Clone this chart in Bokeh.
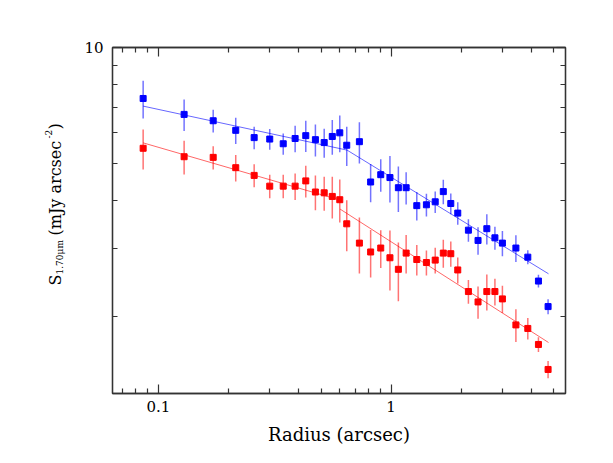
import math
from bokeh.plotting import figure
from bokeh.layouts import row
from bokeh.models import FixedTicker, LogAxis, CustomJSTickFormatter, Range1d
from bokeh.core.properties import value
from bokeh.embed import file_html
from bokeh.resources import INLINE

# ---------------- data ----------------
radius = [0.086, 0.129, 0.172, 0.215, 0.258, 0.301, 0.344, 0.387, 0.430, 0.473,
          0.516, 0.559, 0.602, 0.645, 0.731, 0.817, 0.903, 0.989, 1.075, 1.161,
          1.290, 1.419, 1.548, 1.677, 1.806, 1.935, 2.150, 2.365, 2.580, 2.795,
          3.010, 3.440, 3.870, 4.300, 4.730]

blue_sb = [7.37, 6.70, 6.45, 6.09, 5.83, 5.78, 5.62, 5.80, 5.90, 5.76,
           5.66, 5.87, 6.00, 5.57, 5.69, 4.47, 4.67, 4.59, 4.32, 4.32,
           3.88, 3.90, 3.97, 4.22, 3.93, 3.71, 3.35, 3.15, 3.38, 3.20,
           3.10, 3.01, 2.85, 2.47, 2.12]
blue_err = [0.83, 0.63, 0.44, 0.475, 0.39, 0.36, 0.36, 0.46, 0.55, 0.55,
            0.49, 0.61, 0.66, 0.65, 0.70, 0.51, 0.455, 0.635, 0.585, 0.415,
            0.33, 0.265, 0.255, 0.31, 0.245, 0.25, 0.225, 0.26, 0.305, 0.22,
            0.235, 0.24, 0.12, 0.095, 0.095]

red_sb = [5.47, 5.20, 5.18, 4.87, 4.65, 4.36, 4.36, 4.36, 4.50, 4.21,
          4.19, 4.10, 4.02, 3.48, 3.10, 2.94, 3.01, 2.84, 2.65, 2.92,
          2.81, 2.76, 2.80, 2.92, 2.91, 2.64, 2.32, 2.18, 2.32, 2.32,
          2.22, 1.90, 1.86, 1.69, 1.455]
red_err = [0.655, 0.525, 0.36, 0.385, 0.32, 0.305, 0.305, 0.345, 0.425, 0.435,
           0.425, 0.51, 0.515, 0.525, 0.515, 0.415, 0.34, 0.505, 0.46, 0.335,
           0.255, 0.205, 0.215, 0.245, 0.22, 0.205, 0.165, 0.21, 0.25, 0.185,
           0.18, 0.185, 0.12, 0.075, 0.075]

blue_fit_r = [0.086, 0.647, 4.75]
blue_fit_sb = [7.04, 5.41, 2.58]
red_fit1_r = [0.086, 0.604]
red_fit1_sb = [5.65, 4.01]
red_fit2_r = [0.604, 4.75]
red_fit2_sb = [3.80, 1.71]

x_major = [0.1, 1]
x_minor = [0.07, 0.08, 0.09, 0.2, 0.3, 0.4, 0.5, 0.6, 0.7, 0.8, 0.9, 2, 3, 4, 5]
y_major = [10]
y_minor = [2, 3, 4, 5, 6, 7, 8, 9]

X0, X1 = 0.0635, 5.62
Y0, Y1 = 1.26, 10.0

# ---------------- layout (page pixels) ----------------
FL, FR, FT, FB = 112, 565, 47, 393   # frame edges
TOTAL_W, H = 605, 455
LW = 70                              # width of the strip holding the y title
W = TOTAL_W - LW

FONT = "DejaVu Serif"

p = figure(width=W, height=H, x_axis_type="log", y_axis_type="log",
           x_range=Range1d(X0, X1), y_range=Range1d(Y0, Y1),
           output_backend="svg", toolbar_location=None,
           min_border_left=FL - LW, min_border_right=TOTAL_W - FR,
           min_border_top=FT, min_border_bottom=H - FB)
p.background_fill_color = "white"
p.border_fill_color = "white"
p.outline_line_color = "#333333"
p.outline_line_width = 1.3
p.xgrid.visible = False
p.ygrid.visible = False

fmt = CustomJSTickFormatter(code="return tick.toString();")
blank = CustomJSTickFormatter(code="return '';")


def style_axis(ax, ticks, minor, show_labels=True):
    ax.ticker = FixedTicker(ticks=ticks, minor_ticks=minor)
    ax.formatter = fmt if show_labels else blank
    ax.major_tick_in = 9
    ax.major_tick_out = 0
    ax.minor_tick_in = 5
    ax.minor_tick_out = 0
    ax.axis_line_color = "#333333"
    ax.axis_line_width = 1.3
    ax.major_tick_line_color = "#333333"
    ax.major_tick_line_width = 1.2
    ax.minor_tick_line_color = "#333333"
    ax.minor_tick_line_width = 1.2
    ax.major_label_text_font = FONT
    ax.major_label_text_color = "black"
    ax.major_label_text_font_size = "15px"
    if not show_labels:
        ax.major_label_standoff = 0


xax = p.xaxis[0]
yax = p.yaxis[0]
style_axis(xax, x_major, x_minor)
style_axis(yax, y_major, y_minor)
xax.major_label_standoff = 7
yax.major_label_standoff = 9
xax.axis_label = "Radius (arcsec)"
xax.axis_label_text_font = FONT
xax.axis_label_text_font_size = "18px"
xax.axis_label_text_font_style = "normal"
xax.axis_label_text_color = "black"
xax.axis_label_standoff = 9

top_ax = LogAxis()
style_axis(top_ax, x_major, x_minor, show_labels=False)
p.add_layout(top_ax, "above")
right_ax = LogAxis()
style_axis(right_ax, y_major, y_minor, show_labels=False)
p.add_layout(right_ax, "right")

# ---------------- data glyphs ----------------
blue_lo = [v - e for v, e in zip(blue_sb, blue_err)]
blue_hi = [v + e for v, e in zip(blue_sb, blue_err)]
red_lo = [v - e for v, e in zip(red_sb, red_err)]
red_hi = [v + e for v, e in zip(red_sb, red_err)]

p.segment(radius, blue_lo, radius, blue_hi, line_color="#0000ff", line_alpha=0.55, line_width=1.5)
p.segment(radius, red_lo, radius, red_hi, line_color="#ff0000", line_alpha=0.55, line_width=1.5)

p.line(blue_fit_r, blue_fit_sb, line_color="#0000ff", line_alpha=0.6, line_width=1)
p.line(red_fit1_r, red_fit1_sb, line_color="#ff0000", line_alpha=0.6, line_width=1)
p.line(red_fit2_r, red_fit2_sb, line_color="#ff0000", line_alpha=0.6, line_width=1)

p.scatter(radius, blue_sb, marker="square", size=6, fill_color="#0000ff", line_color="#0000ff")
p.scatter(radius, red_sb, marker="square", size=6, fill_color="#ff0000", line_color="#ff0000")

# ---------------- rotated y-axis title in a narrow strip ----------------
# The row layout aligns this strip's frame with the main frame (FT..FB),
# so its y range is given in "page pixel from the bottom" units over that span.
lab = figure(title=None, frame_width=LW, frame_height=FB - FT,
             x_range=Range1d(0, LW), y_range=Range1d(H - FB, H - FT),
             x_axis_location=None, y_axis_location=None,
             output_backend="svg", toolbar_location=None,
             min_border=0, min_border_left=0, min_border_right=0,
             min_border_top=0, min_border_bottom=0)
lab.grid.visible = False
lab.outline_line_color = None
lab.background_fill_color = "white"
lab.border_fill_color = "white"


def vtext(text, px, py, size):
    lab.text(x=[px], y=[H - py], text=[text], angle=math.pi / 2,
             text_font=value(FONT), text_font_size=value(size), text_color="black",
             text_align="left", text_baseline="alphabetic")


vtext("S", 55, 285, "16px")
vtext("1.70μm", 59, 274, "9px")
vtext("(mJy arcsec", 55, 235, "16px")
vtext("-2", 48, 138, "9px")
vtext(")", 55, 129, "16px")

layout = row(lab, p, spacing=0)
open("out.html", "w").write(file_html(layout, INLINE))
